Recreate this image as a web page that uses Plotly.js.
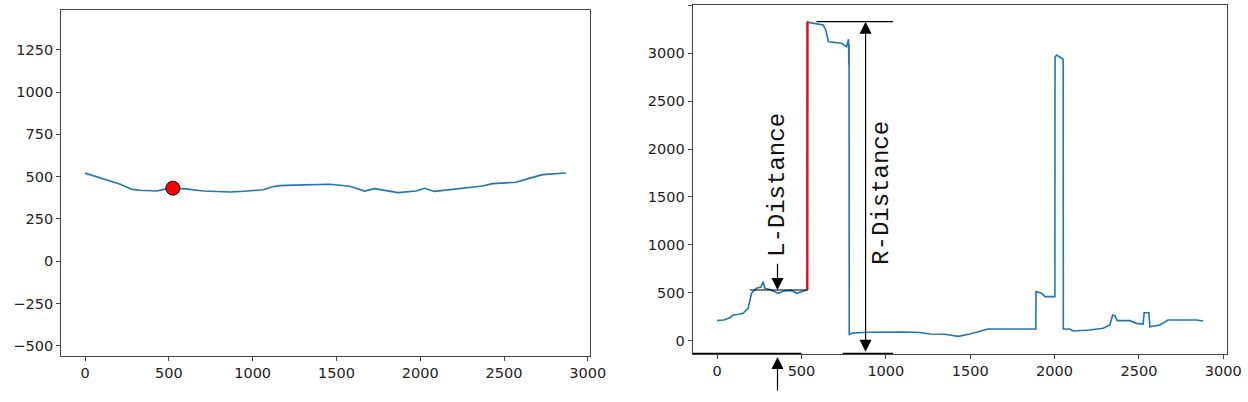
<!DOCTYPE html>
<html>
<head>
<meta charset="utf-8">
<script src="https://cdn.plot.ly/plotly-3.0.1.min.js"></script>
<style>
  html, body { margin: 0; padding: 0; background: #fff; }
  #chart { width: 1248px; height: 402px; }
</style>
</head>
<body>
<div id="chart"></div>
<script>
// left panel: smooth profile with the picked point
const leftX = [0, 100, 210, 280, 330, 428, 470, 524, 600, 706, 800, 865, 950, 1063, 1120, 1163, 1250, 1401, 1460, 1580, 1668, 1728, 1790, 1867, 1976, 2026, 2085, 2234, 2373, 2432, 2571, 2650, 2730, 2869];
const leftY = [521, 490, 455, 425, 420, 415, 425, 430, 428, 415, 413, 409, 414, 423, 440, 447, 450, 455, 455, 443, 415, 429, 418, 406, 415, 431, 413, 429, 445, 459, 467, 490, 512, 522];
const pointX = [524];
const pointY = [432];

// right panel: distance profile
const rightX = [0, 40, 75, 95, 130, 154, 184, 204, 233, 260, 273, 283, 320, 362, 400, 440, 471, 500, 534, 537, 549, 629, 644, 660, 700, 737, 767, 779, 781, 782, 783, 800, 900, 1000, 1100, 1200, 1261, 1350, 1429, 1498, 1550, 1607, 1889, 1890, 1923, 1943, 2002, 2003, 2012, 2051, 2052, 2091, 2110, 2209, 2288, 2328, 2344, 2359, 2371, 2446, 2486, 2525, 2531, 2559, 2565, 2624, 2673, 2842, 2881];
const rightY = [210, 215, 240, 268, 275, 286, 338, 495, 547, 560, 616, 547, 530, 495, 520, 525, 495, 510, 530, 3330, 3320, 3295, 3243, 3121, 3115, 3104, 3069, 3146, 2878, 3100, 60, 80, 88, 92, 90, 85, 70, 67, 45, 70, 95, 122, 122, 512, 495, 460, 460, 2960, 2981, 2937, 122, 122, 101, 112, 129, 164, 268, 258, 209, 209, 181, 174, 292, 292, 146, 164, 216, 216, 205];
const jumpX = [535, 535];
const jumpY = [530, 3330];

// dimension markers
const lLevel = 529, rLevel = 3330, baseLevel = -132;
const lArrowX = 358, rArrowX = 880;
const lTextY = 1620, rTextX = 977, rTextY = 1542;

const blue = "#1f77b4";
const ink = "#222";
const frame = "#444";

const xRange = [-143.5, 3013.5];
const y1Range = [-559, 1486];
const x2Range = [-145, 3020];
const y2Range = [-139, 3504];
const y2Dom = [0.1194, 0.9876];

function axis(extra) {
  return Object.assign({
    showgrid: false, zeroline: false,
    showline: true, mirror: true, linecolor: frame, linewidth: 1,
    ticks: "outside", ticklen: 4, tickcolor: frame, tickwidth: 1,
    tickfont: { family: "DejaVu Sans", size: 14.5, color: ink },
    dtick: 500,
  }, extra);
}

const traces = [
  { x: leftX, y: leftY, type: "scatter", mode: "lines", line: { color: blue, width: 1.6 }, xaxis: "x", yaxis: "y" },
  { x: pointX, y: pointY, type: "scatter", mode: "markers",
    marker: { color: "red", size: 14, line: { color: "#000", width: 1 } }, xaxis: "x", yaxis: "y" },
  { x: rightX, y: rightY, type: "scatter", mode: "lines", line: { color: blue, width: 1.6 }, xaxis: "x2", yaxis: "y2" },
  { x: jumpX, y: jumpY, type: "scatter", mode: "lines", line: { color: "red", width: 2.2 }, xaxis: "x2", yaxis: "y2" },
];

const hline = (x0, x1, y) => ({
  type: "line", xref: "x2", yref: "y2", x0, x1, y0: y, y1: y,
  line: { color: "#000", width: 1.2 },
});

const arrowStyle = { showarrow: true, arrowhead: 2, arrowsize: 2, arrowwidth: 1.2, arrowcolor: "#000", text: "" };
const labelFont = { family: "Liberation Mono", size: 24, color: "#111" };

const layout = {
  width: 1248, height: 402,
  margin: { l: 0, r: 0, t: 0, b: 0 },
  paper_bgcolor: "#fff", plot_bgcolor: "#fff",
  showlegend: false,
  xaxis: axis({ domain: [0.0489, 0.4728], range: xRange, anchor: "y" }),
  yaxis: axis({ domain: [0.1152, 0.9751], range: y1Range, dtick: 250, anchor: "x" }),
  xaxis2: axis({ domain: [0.5550, 0.9829], range: x2Range, anchor: "y2" }),
  yaxis2: axis({ domain: y2Dom, range: y2Range, anchor: "x2" }),
  shapes: [
    hline(194, 534, lLevel),
    hline(589, 1043, rLevel),
    hline(-145, 500, baseLevel),
    hline(744, 1043, baseLevel),
  ],
  annotations: [
    Object.assign({}, arrowStyle, { xref: "x2", yref: "y2", axref: "x2", ayref: "y2",
      x: lArrowX, y: lLevel, ax: lArrowX, ay: 819 }),
    Object.assign({}, arrowStyle, { xref: "x2", yref: "paper",
      x: lArrowX, y: y2Dom[0] - 3 / 402, ax: 0, ay: 35 }),
    Object.assign({}, arrowStyle, { xref: "x2", yref: "y2", axref: "x2", ayref: "y2",
      x: rArrowX, y: rLevel, ax: rArrowX, ay: baseLevel, arrowside: "end+start" }),
    { xref: "x2", yref: "y2", x: lArrowX, y: lTextY, text: "L-Distance", textangle: -90,
      showarrow: false, font: labelFont },
    { xref: "x2", yref: "y2", x: rTextX, y: rTextY, text: "R-Distance", textangle: -90,
      showarrow: false, font: labelFont },
  ],
};

Plotly.newPlot("chart", traces, layout, { staticPlot: true });
</script>
</body>
</html>
